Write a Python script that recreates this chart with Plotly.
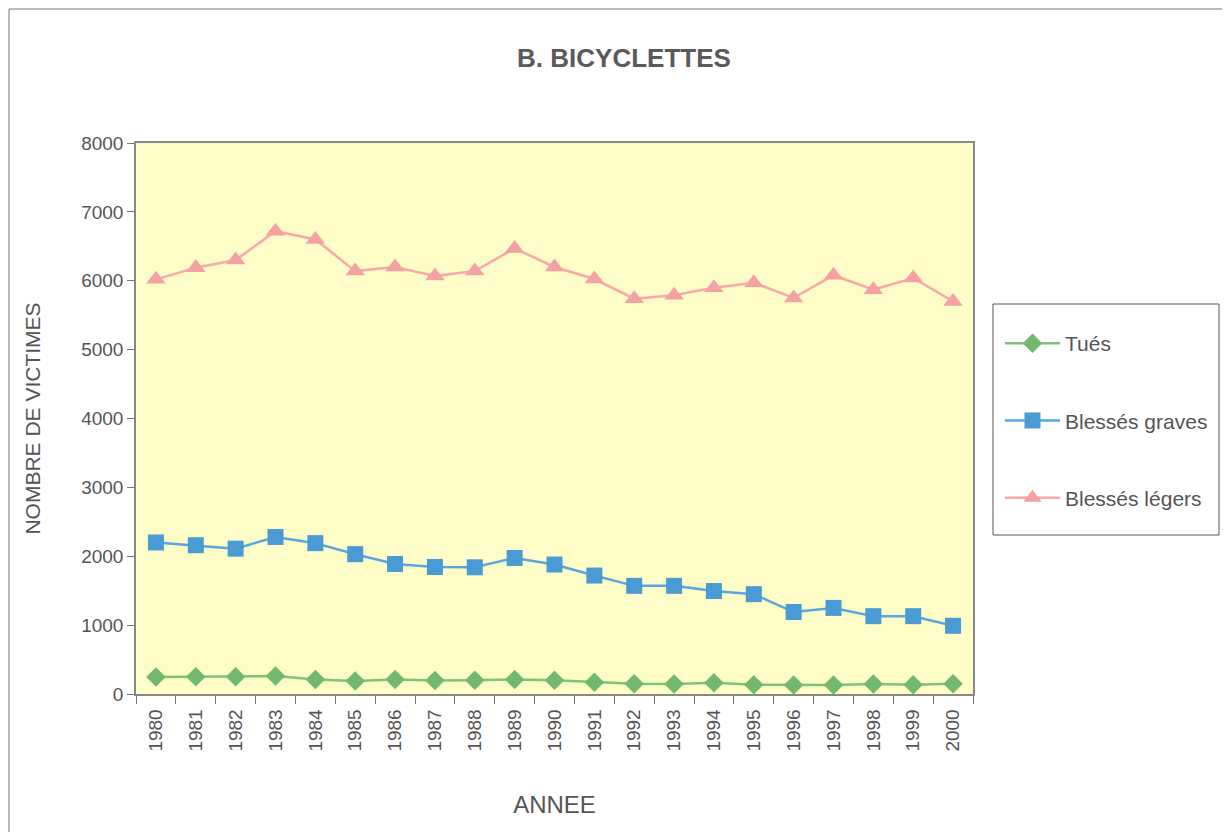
import plotly.graph_objects as go

years = [str(y) for y in range(1980, 2001)]
tues = [247, 250, 250, 260, 210, 190, 210, 195, 200, 210, 200, 170, 150, 145, 165, 135, 130, 130, 145, 135, 150]
graves = [2200, 2160, 2110, 2280, 2190, 2030, 1887, 1844, 1840, 1975, 1880, 1720, 1570, 1570, 1495, 1450, 1190, 1250, 1130, 1130, 990]
legers = [6020, 6190, 6300, 6720, 6600, 6140, 6200, 6070, 6140, 6470, 6200, 6025, 5740, 5790, 5900, 5970, 5750, 6080, 5870, 6040, 5700]

OFF = 7  # page body offset
L, R, T, B = 135, 972, 142, 693
W, H = 1230 - OFF, 832 - OFF

def px2paper_x(px):
    return (px - L) / (R - L)

def px2paper_y(py):
    return (B - py) / (B - T)

fig = go.Figure()
fig.add_trace(go.Scatter(x=years, y=tues, name="Tués", mode="lines+markers", legendgroup="a",
                         line=dict(color="#7cc47a", width=2.5),
                         marker=dict(symbol="diamond", size=15, color="#72b96e")))
fig.add_trace(go.Scatter(x=years, y=graves, name="Blessés graves", mode="lines+markers", legendgroup="b",
                         line=dict(color="#5aa6dc", width=2.5),
                         marker=dict(symbol="square", size=16, color="#4a9ad4")))
fig.add_trace(go.Scatter(x=years, y=legers, name="Blessés légers", mode="lines+markers", legendgroup="c",
                         line=dict(color="#f7a8a8", width=2.5),
                         marker=dict(symbol="triangle-up", size=17, color="#f5a0a3")))

fig.update_layout(
    width=W, height=H,
    margin=dict(l=L - OFF, r=1230 - R, t=T - OFF, b=832 - B),
    paper_bgcolor="white",
    plot_bgcolor="#fefdc8",
    font=dict(family="Liberation Sans, Arial, sans-serif", color="#555555", size=19),
    title=dict(text="<b>B. BICYCLETTES</b>", x=(623 - OFF) / W, xanchor="center",
               y=1 - (57 - OFF) / H, yanchor="middle", font=dict(size=26, color="#5a5a5a")),
    showlegend=True,
    legend=dict(x=px2paper_x(999), y=px2paper_y(322), xanchor="left", yanchor="top",
                borderwidth=0, bgcolor="rgba(0,0,0,0)",
                tracegroupgap=47, font=dict(size=21, color="#555555"),
                itemwidth=55),
    xaxis=dict(type="category", range=[-0.5, 20.5], showgrid=False, zeroline=False,
               ticks="outside", tickson="boundaries", ticklen=8, tickcolor="#777777",
               tickangle=-90, tickfont=dict(size=19, color="#555555"), ticklabelstandoff=6,
               showline=True, linecolor="#888888", linewidth=1.5, mirror=True,
               title=dict(text="ANNEE", font=dict(size=24, color="#555555"), standoff=46)),
    yaxis=dict(range=[0, 8000], dtick=1000, showgrid=False, zeroline=False,
               ticks="outside", ticklen=7, tickcolor="#777777",
               tickfont=dict(size=19, color="#555555"),
               showline=True, linecolor="#888888", linewidth=1.5, mirror=True,
               title=dict(text="NOMBRE DE VICTIMES", font=dict(size=21, color="#555555"), standoff=35)),
    shapes=[
        dict(type="rect", xref="paper", yref="paper",
             x0=px2paper_x(8), x1=px2paper_x(1228), y0=px2paper_y(845), y1=px2paper_y(8),
             line=dict(color="#777777", width=1), fillcolor="rgba(0,0,0,0)", layer="below"),
        dict(type="rect", xref="paper", yref="paper",
             x0=px2paper_x(992), x1=px2paper_x(1218), y0=px2paper_y(534), y1=px2paper_y(303),
             line=dict(color="#555555", width=1), fillcolor="white", layer="below"),
    ],
)

fig.write_html("out.html")
